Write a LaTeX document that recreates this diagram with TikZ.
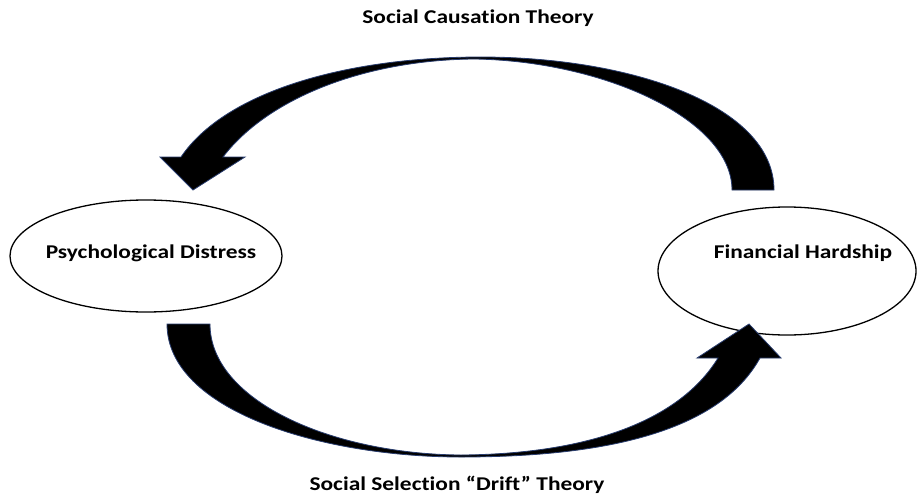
\documentclass[tikz,border=0pt]{standalone}
\usepackage{fontspec}
\setmainfont{Carlito}
\newfontfamily\lblfont[FakeStretch=1.2, Ligatures=NoCommon]{Carlito}
\usetikzlibrary{shapes.geometric}
\definecolor{arrowedge}{RGB}{40,60,110}
\tikzset{
  lbl/.style={font=\lblfont\bfseries\fontsize{19.5}{22}\selectfont, text=black, anchor=base, inner sep=0pt},
  bigarrow/.style={fill=black, draw=arrowedge, line width=0.8pt, line join=miter}
}
\begin{document}
\begin{tikzpicture}[x=1pt,y=-1pt]
\useasboundingbox (0,0) rectangle (917,495);
% ellipses
\draw[black, line width=1.3pt] (146,256) ellipse [x radius=136, y radius=56];
\node[lbl] (pd) at (151,258) {Psychological Distress};
\draw[black, line width=1.3pt] (787,271) ellipse [x radius=129, y radius=64];
\node[lbl] (fh) at (803,258) {Financial Hardship};
% titles
\node[lbl] (t1) at (478,24) {Social Causation Theory};
\node[lbl] (t2) at (457,490) {Social Selection “Drift” Theory};
% top arrow (right to left)
\draw[bigarrow] (774,190) .. controls (774,105) and (630,57) .. (481,57)
  .. controls (345,57) and (225,92) .. (181,157)
  -- (160,157) -- (193,190) -- (245,157) -- (223,157)
  .. controls (268,98) and (365,60) .. (474,59)
  .. controls (605,61) and (732,120) .. (732,190) -- cycle;
% bottom arrow (left to right)
\draw[bigarrow] (167,324) .. controls (167,410) and (320,457) .. (461,457)
  .. controls (610,457) and (720,430) .. (760,358)
  -- (781,358) -- (749,324) -- (697,358) -- (718,358)
  .. controls (680,420) and (590,454) .. (461,455)
  .. controls (330,454) and (210,400) .. (210,324) -- cycle;
\end{tikzpicture}
\end{document}
